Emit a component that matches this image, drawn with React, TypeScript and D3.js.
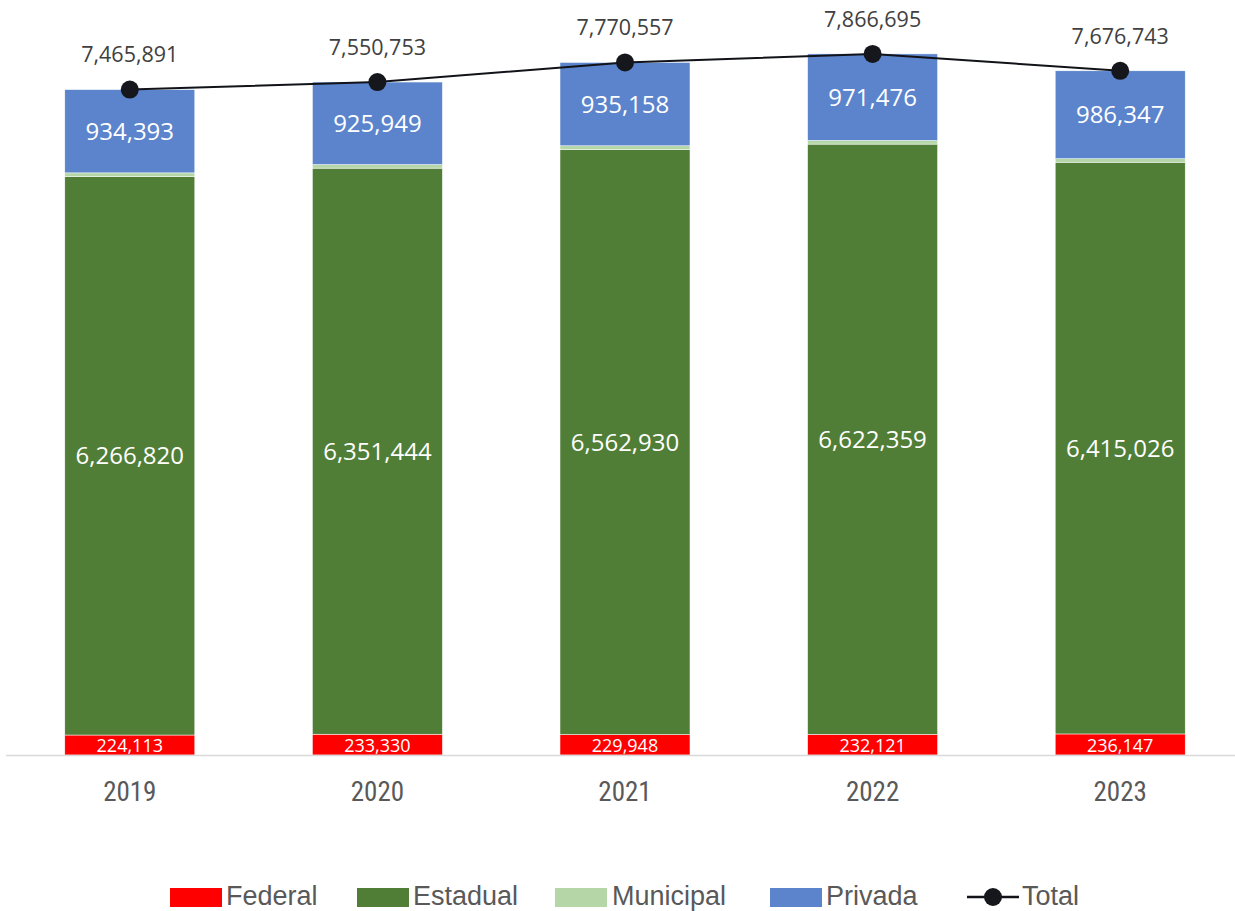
import React from "react";
import * as d3 from "d3";

const years = ["2019", "2020", "2021", "2022", "2023"];
const federal = [224113, 233330, 229948, 232121, 236147];
const estadual = [6266820, 6351444, 6562930, 6622359, 6415026];
const municipal = [40565, 40030, 42521, 40739, 39223];
const privada = [934393, 925949, 935158, 971476, 986347];
const total = [7465891, 7550753, 7770557, 7866695, 7676743];

const seriesNames = ["Federal", "Estadual", "Municipal", "Privada"];
const colors: Record<string, string> = {
  Federal: "#ff0000",
  Estadual: "#507e37",
  Municipal: "#b5d6a7",
  Privada: "#5b84cc",
};

const W = 1235;
const H = 911;

export default function App() {
  const x = d3.scaleBand<string>().domain(years).range([6, 1244]).paddingInner(0.475).paddingOuter(0.2375);
  const y = d3.scaleLinear().domain([0, 8000000]).range([755, 42]);

  const rows = years.map((yr, i) => ({
    year: yr,
    Federal: federal[i],
    Estadual: estadual[i],
    Municipal: municipal[i],
    Privada: privada[i],
  }));
  const stack = d3.stack<any>().keys(seriesNames)(rows);
  const line = d3
    .line<number>()
    .x((_, i) => (x(years[i]) as number) + x.bandwidth() / 2)
    .y((d) => y(d));
  const fmt = d3.format(",");

  const legend = [
    { name: "Federal", sx: 170, tx: 226 },
    { name: "Estadual", sx: 357, tx: 413 },
    { name: "Municipal", sx: 555, tx: 612 },
    { name: "Privada", sx: 770, tx: 826 },
  ];

  return (
    <svg width={W} height={H} style={{ position: "absolute", left: 0, top: 0 }}>
      <rect width={W} height={H} fill="#fff" />
      {stack.map((s) => (
        <g key={s.key}>
          {s.map((d, i) => (
            <rect
              key={i}
              x={x(years[i])}
              width={x.bandwidth()}
              y={y(d[1])}
              height={y(d[0]) - y(d[1])}
              fill={colors[s.key]}
              stroke="#ffffff"
              strokeWidth={0.5}
            />
          ))}
        </g>
      ))}
      <line x1={6} x2={1235} y1={755.5} y2={755.5} stroke="#d9d9d9" strokeWidth={1.5} />
      {stack.map((s) =>
        s.key === "Municipal"
          ? null
          : s.map((d, i) => {
              const cx = (x(years[i]) as number) + x.bandwidth() / 2;
              const cy = (y(d[0]) + y(d[1])) / 2;
              const small = s.key === "Federal";
              return (
                <text
                  key={s.key + i}
                  x={cx}
                  y={cy + (small ? 1 : 0)}
                  dy="0.36em"
                  textAnchor="middle"
                  fill="#ffffff"
                  fontFamily="'Open Sans', 'Noto Sans', sans-serif"
                  fontSize={small ? 18 : 24}
                >
                  {fmt(d[1] - d[0])}
                </text>
              );
            })
      )}
      <path d={line(total) || ""} fill="none" stroke="#111318" strokeWidth={2} />
      {total.map((v, i) => {
        const cx = (x(years[i]) as number) + x.bandwidth() / 2;
        return (
          <g key={i}>
            <circle cx={cx} cy={y(v)} r={9} fill="#16171c" />
            <text
              x={cx}
              y={y(v) - 35}
              dy="0.36em"
              textAnchor="middle"
              fill="#404040"
              fontFamily="'Open Sans', 'Noto Sans', sans-serif"
              fontSize={21.5}
            >
              {fmt(v)}
            </text>
          </g>
        );
      })}
      {years.map((yr) => (
        <text
          key={yr}
          x={(x(yr) as number) + x.bandwidth() / 2}
          y={791}
          dy="0.36em"
          textAnchor="middle"
          fill="#595959"
          fontFamily="'Liberation Sans Narrow', 'Roboto Condensed', 'Liberation Sans', sans-serif"
          fontSize={27}
        >
          {yr}
        </text>
      ))}
      {legend.map((l) => (
        <g key={l.name}>
          <rect x={l.sx} y={888} width={52} height={19} fill={colors[l.name]} />
          <text
            x={l.tx}
            y={895}
            dy="0.36em"
            fill="#595959"
            fontFamily="'Liberation Sans Narrow', 'Liberation Sans', sans-serif"
            fontSize={27}
          >
            {l.name}
          </text>
        </g>
      ))}
      <g>
        <line x1={967} x2={1019} y1={897} y2={897} stroke="#111318" strokeWidth={2.5} />
        <circle cx={993} cy={897} r={9} fill="#16171c" />
        <text
          x={1022}
          y={895}
          dy="0.36em"
          fill="#595959"
          fontFamily="'Liberation Sans Narrow', 'Liberation Sans', sans-serif"
          fontSize={27}
        >
          Total
        </text>
      </g>
    </svg>
  );
}
